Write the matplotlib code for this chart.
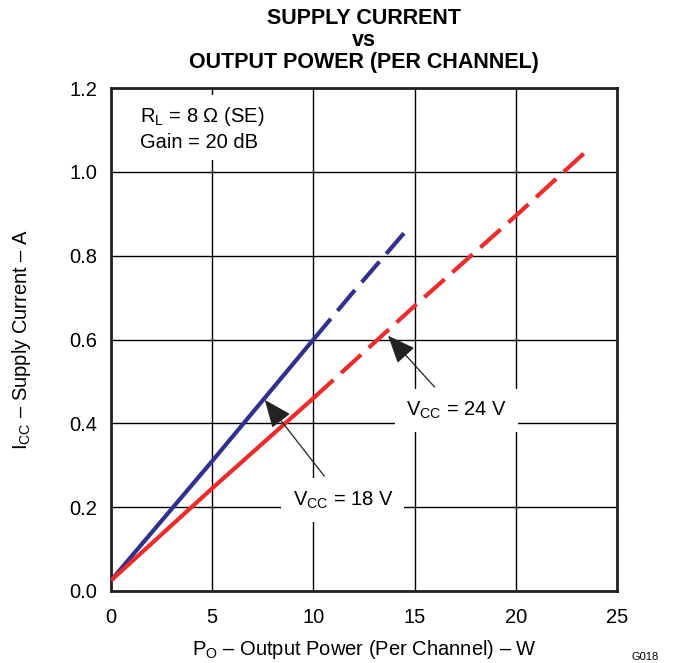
import matplotlib
matplotlib.use("Agg")
import matplotlib.pyplot as plt

plt.rcParams['font.family'] = ['Liberation Sans', 'DejaVu Sans']
plt.rcParams['mathtext.fontset'] = 'custom'
plt.rcParams['mathtext.rm'] = 'Liberation Sans'
plt.rcParams['mathtext.it'] = 'Liberation Sans'

# Data (Output power per channel in W, supply current in A)
p18_solid = [0.0, 5.0, 10.0]
i18_solid = [0.025, 0.31, 0.60]
p18_dash = [10.0, 12.0, 14.5]
i18_dash = [0.60, 0.715, 0.855]

p24_solid = [0.0, 5.0, 10.0]
i24_solid = [0.025, 0.245, 0.46]
p24_dash = [10.0, 15.0, 20.0, 23.5]
i24_dash = [0.46, 0.68, 0.895, 1.05]

xticks = [0, 5, 10, 15, 20, 25]
yticks = [0.0, 0.2, 0.4, 0.6, 0.8, 1.0, 1.2]

blue = '#2E3192'
red = '#EE2A2A'
fs = 14.5

fig = plt.figure(figsize=(6.74, 6.63), dpi=100)
ax = fig.add_axes([111/674, 1-591/663, (617-111)/674, (591-88)/663])

ax.set_xlim(0, 25)
ax.set_ylim(0, 1.2)
ax.set_xticks(xticks)
ax.set_yticks(yticks)
ax.set_xticklabels([str(t) for t in xticks], fontsize=fs)
ax.set_yticklabels([f'{t:.1f}' for t in yticks], fontsize=fs)
ax.tick_params(length=0, pad=10)
ax.tick_params(axis='x', pad=12)
ax.grid(True, color='black', lw=1.0)
ax.set_axisbelow(True)
for s in ax.spines.values():
    s.set_linewidth(2.0)
    s.set_color('#222222')

lw = 3.0
ax.plot(p18_solid, i18_solid, color=blue, lw=lw, solid_capstyle='butt', zorder=3)
ax.plot(p18_dash, i18_dash, color=blue, lw=lw, dashes=(6.5, 2.5), zorder=3)
ax.plot(p24_solid, i24_solid, color=red, lw=lw, solid_capstyle='butt', zorder=3)
ax.plot(p24_dash, i24_dash, color=red, lw=lw, dashes=(6.5, 2.5), zorder=3)

ax.text(1.43, 1.16, 'R$_{\\mathrm{L}}$ = 8 \u03a9 (SE)\nGain = 20 dB', fontsize=fs,
        va='top', ha='left', linespacing=1.35, zorder=4,
        bbox=dict(facecolor='white', edgecolor='none', pad=6))

arrow = dict(arrowstyle='-|>,head_length=1.2,head_width=0.5', color='#222222', lw=0.9,
             shrinkA=2, shrinkB=0)
ax.annotate('V$_{\\mathrm{CC}}$ = 24 V', xy=(13.69, 0.609), xytext=(17.05, 0.43),
            fontsize=fs, ha='center', va='center', zorder=5, arrowprops=arrow,
            bbox=dict(boxstyle='square,pad=0.55', facecolor='white', edgecolor='none'))
ax.annotate('V$_{\\mathrm{CC}}$ = 18 V', xy=(7.6, 0.456), xytext=(11.46, 0.217),
            fontsize=fs, ha='center', va='center', zorder=5, arrowprops=arrow,
            bbox=dict(boxstyle='square,pad=0.55', facecolor='white', edgecolor='none'))

ax.set_xlabel('P$_{\\mathrm{O}}$ \u2013 Output Power (Per Channel) \u2013 W', fontsize=fs, labelpad=8)
ax.set_ylabel('I$_{\\mathrm{CC}}$ \u2013 Supply Current \u2013 A', fontsize=fs, labelpad=26)

fig.text(364/674, 1-8/663, 'SUPPLY CURRENT\nvs\nOUTPUT POWER (PER CHANNEL)', fontsize=15.5,
         fontweight='bold', ha='center', va='top', linespacing=1.05)
fig.text(645/674, 1/663, 'G018', fontsize=8, ha='center', va='bottom')

fig.savefig('out.png', dpi=100)
